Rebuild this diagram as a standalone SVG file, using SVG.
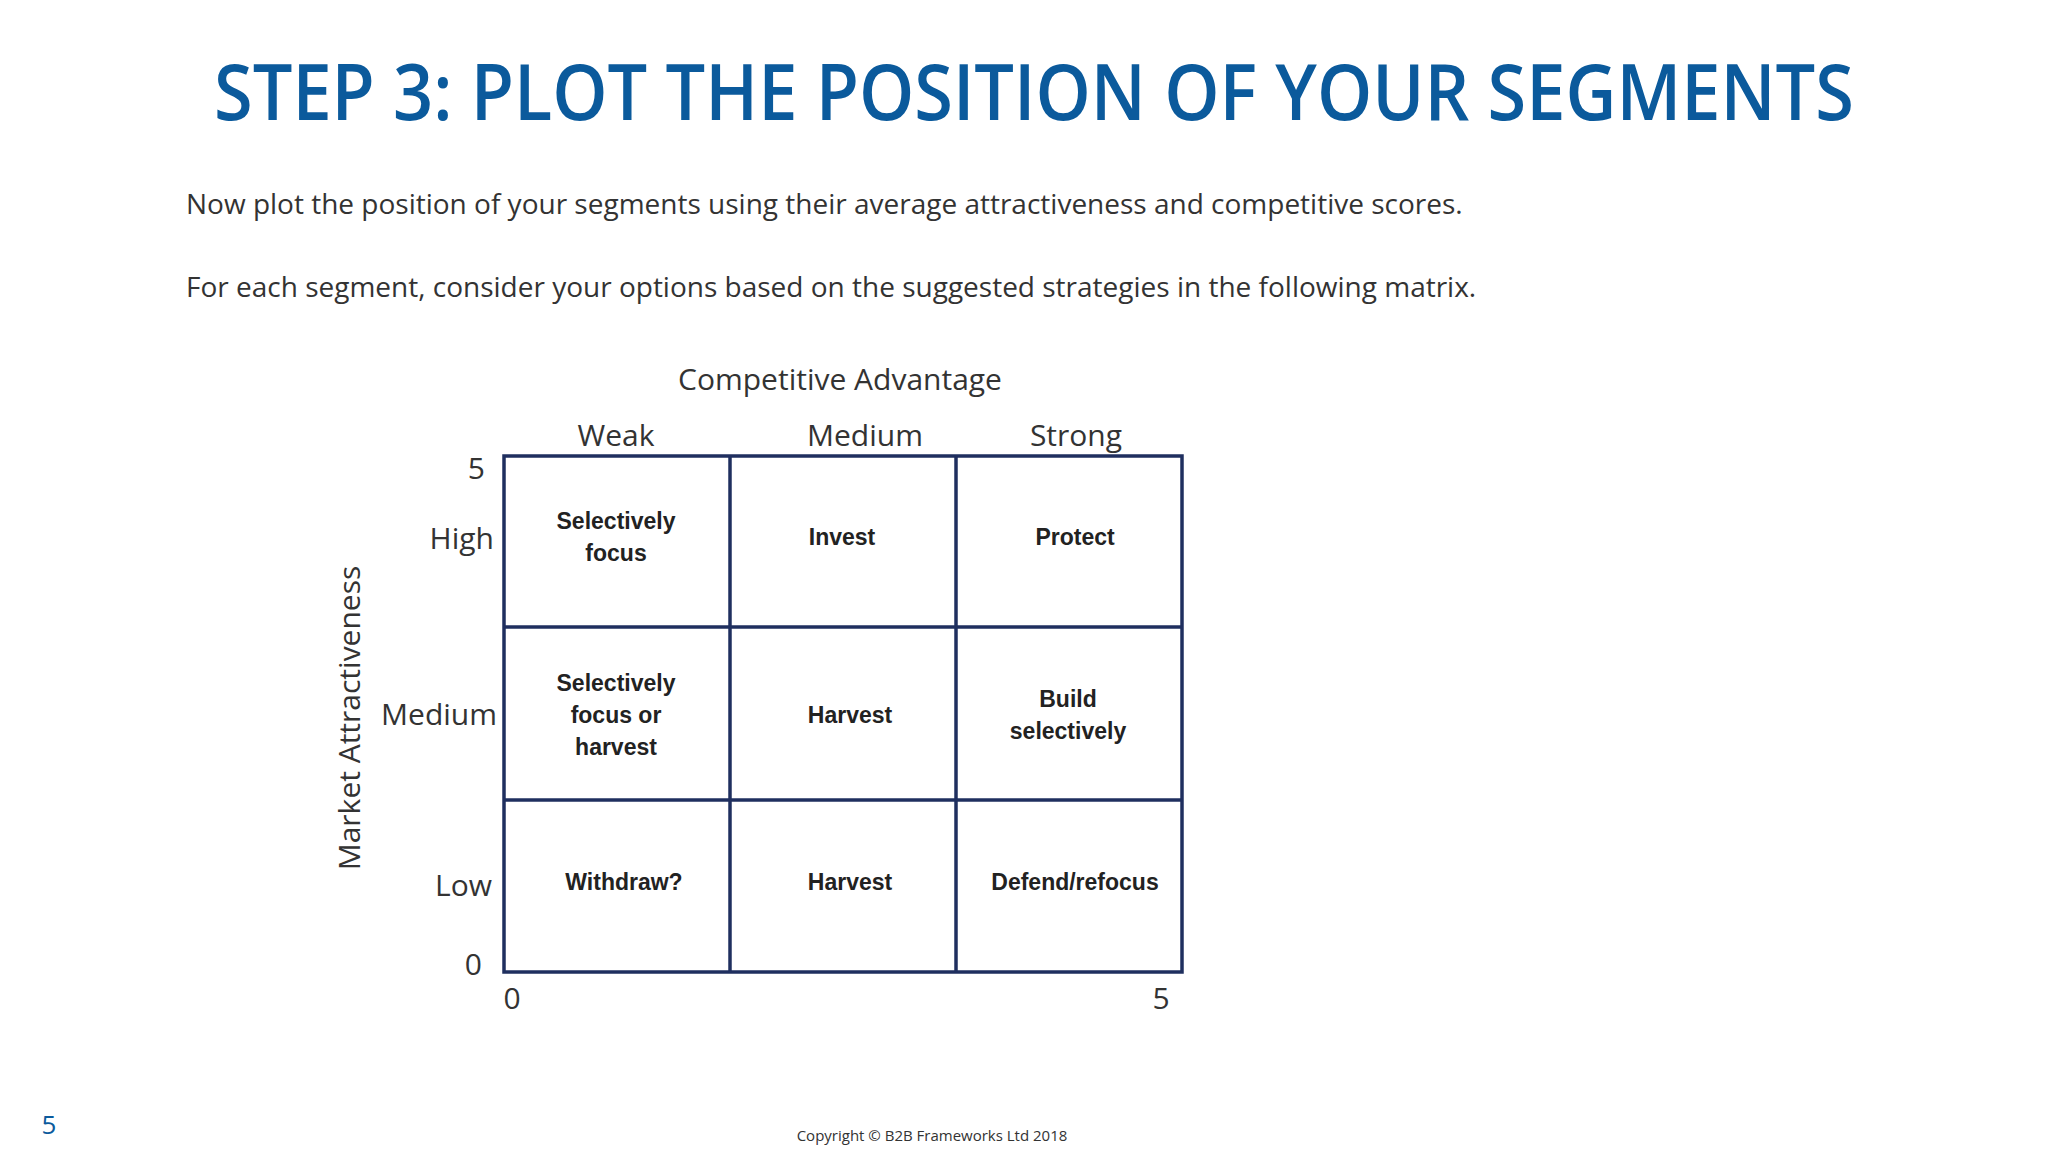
<svg xmlns="http://www.w3.org/2000/svg" width="2048" height="1152" viewBox="0 0 2048 1152">
<style>
text{font-family:"Open Sans","Liberation Sans",sans-serif}
.t{fill:#0b5a9c;font-size:78px;font-weight:600}
.b{fill:#333;font-size:28px}
.l{fill:#333;font-size:30px;text-anchor:middle}
.r{fill:#333;font-size:30px;text-anchor:end}
.c{fill:#222;font-size:23px;font-weight:bold;text-anchor:middle;font-family:"Liberation Sans",sans-serif}
.g{stroke:#1f2f5f;stroke-width:3.5;fill:none}
</style>
<rect width="2048" height="1152" fill="#fff"/>
<text class="t" x="1034" y="120" text-anchor="middle" textLength="1640" lengthAdjust="spacingAndGlyphs">STEP 3: PLOT THE POSITION OF YOUR SEGMENTS</text>
<text class="b" x="186" y="214">Now plot the position of your segments using their average attractiveness and competitive scores.</text>
<text class="b" x="186" y="297">For each segment, consider your options based on the suggested strategies in the following matrix.</text>
<g id="axes">
<text class="l" x="840" y="390">Competitive Advantage</text>
<text class="l" x="616" y="446">Weak</text>
<text class="l" x="865" y="446">Medium</text>
<text class="l" x="1076" y="446">Strong</text>
<text class="r" x="485" y="479">5</text>
<text class="r" x="494" y="549">High</text>
<text class="r" x="497" y="725">Medium</text>
<text class="r" x="492" y="896">Low</text>
<text class="r" x="482" y="975">0</text>
<text class="l" x="512" y="1009">0</text>
<text class="l" x="1161" y="1009">5</text>
<text class="l" transform="translate(360,718) rotate(-90)">Market Attractiveness</text>
</g>
<g id="grid">
<rect class="g" x="504" y="456" width="678" height="516"/>
<line class="g" x1="730" y1="456" x2="730" y2="972"/>
<line class="g" x1="956" y1="456" x2="956" y2="972"/>
<line class="g" x1="504" y1="627" x2="1182" y2="627"/>
<line class="g" x1="504" y1="800" x2="1182" y2="800"/>
</g>
<g id="cell-hw"><text class="c" x="616" y="529">Selectively</text><text class="c" x="616" y="561">focus</text></g>
<g id="cell-hm"><text class="c" x="842" y="545">Invest</text></g>
<g id="cell-hs"><text class="c" x="1075" y="545">Protect</text></g>
<g id="cell-mw"><text class="c" x="616" y="691">Selectively</text><text class="c" x="616" y="723">focus or</text><text class="c" x="616" y="755">harvest</text></g>
<g id="cell-mm"><text class="c" x="850" y="723">Harvest</text></g>
<g id="cell-ms"><text class="c" x="1068" y="707">Build</text><text class="c" x="1068" y="739">selectively</text></g>
<g id="cell-lw"><text class="c" x="624" y="890">Withdraw?</text></g>
<g id="cell-lm"><text class="c" x="850" y="890">Harvest</text></g>
<g id="cell-ls"><text class="c" x="1075" y="890">Defend/refocus</text></g>
<text x="49" y="1134" fill="#0b5a9c" font-size="26" text-anchor="middle">5</text>
<text x="932" y="1141" fill="#333" font-size="15" text-anchor="middle">Copyright © B2B Frameworks Ltd 2018</text>
</svg>
